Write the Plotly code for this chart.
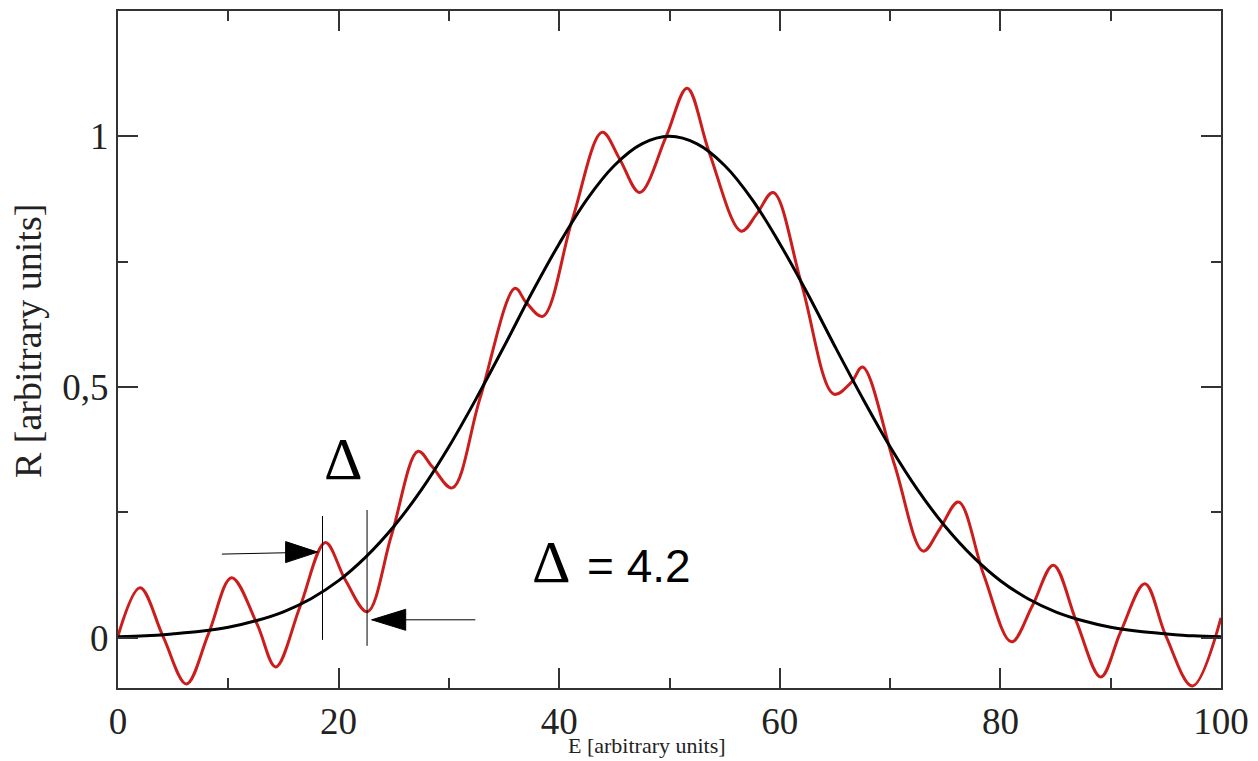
import plotly.graph_objects as go

# ---- data ----
black_x = [0, 2.5, 5, 7.5, 10, 12.5, 15, 17.5, 20, 22.5, 25, 27.5, 30, 32.5, 35, 37.5, 40,
           42.5, 45, 47.5, 50, 52.5, 55, 57.5, 60, 62.5, 65, 67.5, 70, 72.5, 75, 77.5, 80,
           82.5, 85, 87.5, 90, 92.5, 95, 97.5, 100]
black_y = [0.002, 0.004, 0.008, 0.013, 0.021, 0.034, 0.052, 0.078, 0.114, 0.162, 0.222, 0.295,
           0.381, 0.478, 0.581, 0.687, 0.786, 0.874, 0.942, 0.985, 1.0, 0.985, 0.942, 0.874,
           0.786, 0.687, 0.581, 0.478, 0.381, 0.295, 0.222, 0.162, 0.114, 0.078, 0.052, 0.034,
           0.021, 0.013, 0.008, 0.004, 0.002]

red_x = [0, 2.0, 4.1, 6.2, 8.2, 10.3, 12.6, 14.3, 16.5, 18.8, 20.6, 22.6, 24.8, 27.2, 28.5,
         30.3, 32.8, 36.0, 37.0, 38.5, 41.2, 43.9, 45.5, 47.3, 49.7, 51.6, 53.6, 56.5, 57.9,
         59.4, 62.0, 64.9, 66.5, 67.5, 70.4, 73.0, 74.5, 76.2, 78.5, 81.0, 82.9, 84.8, 86.9,
         89.1, 90.9, 93.1, 95.0, 97.4, 100]
red_y = [0.004, 0.100, 0.002, -0.092, 0.008, 0.120, 0.028, -0.058, 0.062, 0.190, 0.116, 0.052,
         0.205, 0.372, 0.341, 0.299, 0.476, 0.697, 0.669, 0.641, 0.835, 1.008, 0.954, 0.888,
         1.000, 1.096, 0.968, 0.811, 0.845, 0.888, 0.703, 0.486, 0.510, 0.540, 0.345, 0.173,
         0.217, 0.271, 0.125, -0.008, 0.064, 0.145, 0.032, -0.078, 0.012, 0.108, 0.004,
         -0.096, 0.040]

x_tickvals = [0, 20, 40, 60, 80, 100]
x_ticktext = ["0", "20", "40", "60", "80", "100"]
x_minor = [10, 30, 50, 70, 90]
y_tickvals = [0, 0.5, 1]
y_ticktext = ["0", "0,5", "1"]
y_minor = [0.25, 0.75]

# Delta marker geometry (data units)
delta_lines_x = [18.54, 22.58]
delta_lines_y0 = [-0.004, -0.016]
delta_lines_y1 = [0.243, 0.255]
arrow_tails = [(9.42, 0.167), (32.4, 0.036)]
arrow_tips = [(18.1, 0.171), (23.0, 0.036)]

AX = "#333333"
fig = go.Figure()
fig.add_trace(go.Scatter(x=red_x, y=red_y, mode="lines",
                         line=dict(color="#cc1d1d", width=3, shape="spline", smoothing=1.0),
                         showlegend=False, hoverinfo="skip"))
fig.add_trace(go.Scatter(x=black_x, y=black_y, mode="lines",
                         line=dict(color="#000000", width=3, shape="spline", smoothing=1.0),
                         showlegend=False, hoverinfo="skip"))

tickfont = dict(family="Liberation Serif", size=37, color="#222222")
fig.update_xaxes(range=[0, 100], tickmode="array", tickvals=x_tickvals, ticktext=x_ticktext,
                 ticks="inside", ticklen=20, tickwidth=2, tickcolor=AX,
                 showline=True, linecolor=AX, linewidth=2, mirror="allticks",
                 showgrid=False, zeroline=False, tickfont=tickfont,
                 minor=dict(tickmode="array", tickvals=x_minor, ticks="inside", ticklen=10,
                            tickwidth=2, tickcolor=AX, showgrid=False))
fig.update_yaxes(range=[-0.1, 1.25], tickmode="array", tickvals=y_tickvals, ticktext=y_ticktext,
                 ticks="inside", ticklen=20, tickwidth=2, tickcolor=AX,
                 showline=True, linecolor=AX, linewidth=2, mirror="allticks",
                 showgrid=False, zeroline=False, tickfont=tickfont,
                 minor=dict(tickmode="array", tickvals=y_minor, ticks="inside", ticklen=10,
                            tickwidth=2, tickcolor=AX, showgrid=False))

shapes = []
for xv, y0, y1 in zip(delta_lines_x, delta_lines_y0, delta_lines_y1):
    shapes.append(dict(type="line", xref="x", yref="y", x0=xv, x1=xv, y0=y0, y1=y1,
                       line=dict(color="black", width=1)))
# arrow 1 (pointing right), arrow 2 (pointing left)
heads = ["M0,0 L-32,10.5 L-32,-10.5 Z", "M0,0 L34,10.5 L34,-10.5 Z"]
for (tx, ty), (hx, hy), path in zip(arrow_tails, arrow_tips, heads):
    shapes.append(dict(type="line", xref="x", yref="y", x0=tx, y0=ty, x1=hx, y1=hy,
                       line=dict(color="black", width=1)))
    shapes.append(dict(type="path", xref="x", yref="y", xsizemode="pixel", ysizemode="pixel",
                       xanchor=hx, yanchor=hy, path=path, fillcolor="black",
                       line=dict(color="black", width=1)))

annotations = [
    dict(text="Δ", xref="x", yref="y", x=20.4, y=0.357, showarrow=False,
         font=dict(family="Liberation Serif", size=60, color="black"),
         xanchor="center", yanchor="middle"),
    dict(text="Δ", xref="x", yref="y", x=39.3, y=0.151, showarrow=False,
         font=dict(family="Liberation Serif", size=60, color="black"),
         xanchor="center", yanchor="middle"),
    dict(text="= 4.2", xref="x", yref="y", x=42.3, y=0.143, showarrow=False,
         font=dict(family="Liberation Sans", size=46, color="black"),
         xanchor="left", yanchor="middle"),
    dict(text="E [arbitrary units]", xref="paper", yref="paper", x=0.48, y=-0.085,
         showarrow=False, font=dict(family="Liberation Serif", size=22, color="#222222"),
         xanchor="center", yanchor="middle"),
    dict(text="R [arbitrary units]", xref="paper", yref="paper", x=-0.081, y=0.512,
         showarrow=False, textangle=-90,
         font=dict(family="Liberation Serif", size=38, color="#222222"),
         xanchor="center", yanchor="middle"),
]

fig.update_layout(width=1258, height=761, margin=dict(l=118, r=36, t=9, b=73),
                  paper_bgcolor="white", plot_bgcolor="white",
                  shapes=shapes, annotations=annotations, showlegend=False)
fig.write_html("out.html")
